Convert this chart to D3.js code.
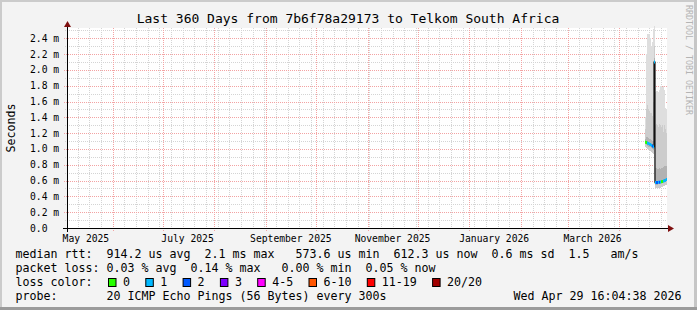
<!DOCTYPE html>
<html>
<head>
<meta charset="utf-8">
<script src="https://cdn.jsdelivr.net/npm/d3@7/dist/d3.min.js"></script>
<style>
  body { margin: 0; background: #f3f3f3; }
  text { font-family: "DejaVu Sans Mono", monospace; }
</style>
</head>
<body>
<div id="chart"></div>
<script>
var width = 697;
var height = 310;

// time frame of the graph
var endTime = new Date(Date.UTC(2026, 3, 29, 16, 4, 38));
var spanDays = 360;
var stepDays = 0.6;

// one entry per consolidated sample, age = days before endTime
var ageDays   = [12.6, 12.0, 11.4, 10.8, 10.2, 9.6, 9.0, 8.4, 7.8, 7.2, 6.6, 6.0, 5.4, 4.8, 4.2, 3.6, 3.0, 2.4, 1.8, 1.2, 0.6, 0.0];
var medianMs  = [1.085, 1.082, 1.075, 1.068, 1.062, 1.055, 1.048, 1.038, 1.028, 2.1, 0.574, 0.575, 0.576, 0.578, 0.580, 0.583, 0.586, 0.589, 0.593, 0.598, 0.605, 0.612];
var lossCount = [0, 0, 1, 1, 1, 1, 1, 2, 1, 1, 1, 2, 2, 1, 2, 1, 0, 0, 1, 1, 1, 1];
var smokeMax  = [1.40, 2.20, 2.45, 2.45, 2.45, 2.40, 2.30, 2.35, 2.52, 2.55, 1.72, 1.73, 1.73, 1.72, 1.75, 1.80, 1.80, 1.78, 1.80, 1.75, 1.52, 1.50];
var smokeP90  = [1.25, 1.50, 1.55, 1.50, 1.48, 1.45, 1.45, 1.42, 1.60, 2.30, 1.30, 1.32, 1.30, 1.28, 1.32, 1.30, 1.28, 1.30, 1.22, 1.30, 1.25, 1.20];
var smokeP75  = [1.13, 1.15, 1.15, 1.14, 1.13, 1.12, 1.11, 1.10, 1.10, 2.15, 0.76, 0.76, 0.75, 0.75, 0.76, 0.75, 0.76, 0.76, 0.77, 0.78, 0.78, 0.78];
var smokeP25  = [1.06, 1.05, 1.04, 1.03, 1.03, 1.02, 1.01, 1.00, 0.99, 1.00, 0.55, 0.55, 0.55, 0.555, 0.56, 0.56, 0.565, 0.57, 0.575, 0.58, 0.585, 0.59];
var smokeMin  = [1.02, 1.01, 1.00, 0.99, 0.98, 0.97, 0.96, 0.95, 0.94, 0.60, 0.50, 0.50, 0.50, 0.50, 0.51, 0.51, 0.52, 0.52, 0.53, 0.53, 0.54, 0.55];

var yMax = 2.53;
var yTicks = [0, 0.2, 0.4, 0.6, 0.8, 1.0, 1.2, 1.4, 1.6, 1.8, 2.0, 2.2, 2.4];
var yTickLabels = ["0.0", "0.2 m", "0.4 m", "0.6 m", "0.8 m", "1.0 m", "1.2 m", "1.4 m", "1.6 m", "1.8 m", "2.0 m", "2.2 m", "2.4 m"];
var yMinorTicks = [0.1, 0.3, 0.5, 0.7, 0.9, 1.1, 1.3, 1.5, 1.7, 1.9, 2.1, 2.3, 2.5];

// loss legend
var lossLabels = ["0", "1", "2", "3", "4-5", "6-10", "11-19", "20/20"];
var lossColors = ["#26ff00", "#00b8ff", "#0059ff", "#7e00ff", "#ff00ff", "#ff5500", "#ff0000", "#a10000"];

var title = "Last 360 Days from 7b6f78a29173 to Telkom South Africa";
var legendLines = [
  "median rtt:  914.2 us avg  2.1 ms max   573.6 us min  612.3 us now  0.6 ms sd  1.5   am/s",
  "packet loss: 0.03 % avg  0.14 % max   0.00 % min  0.05 % now"
];
var probeText = "20 ICMP Echo Pings (56 Bytes) every 300s";
var stampText = "Wed Apr 29 16:04:38 2026";

var plotL = 67, plotR = 667, plotT = 28, plotB = 228;
var minorColor = "#d4d4d4", majorColor = "#f3a3a3";

// keep runs of spaces in svg text
function keep(s) { return s.replace(/ /g, "\u00a0"); }

var svg = d3.select("#chart")
  .append("svg")
  .attr("width", width)
  .attr("height", height);

svg.append("rect").attr("width", width).attr("height", height).attr("fill", "#f3f3f3");
// frame
svg.append("rect").attr("x", 0).attr("y", 0).attr("width", width).attr("height", 2).attr("fill", "#cbcbcb");
svg.append("rect").attr("x", 0).attr("y", 0).attr("width", 2).attr("height", height).attr("fill", "#cbcbcb");
svg.append("rect").attr("x", width - 3).attr("y", 0).attr("width", 3).attr("height", height).attr("fill", "#c6c6c6");
svg.append("rect").attr("x", 0).attr("y", height - 3).attr("width", width).attr("height", 3).attr("fill", "#9b9b9b");

var startTime = d3.utcDay.offset(endTime, -spanDays);

var x = d3.scaleUtc().domain([startTime, endTime]).range([plotL, plotR]);
var y = d3.scaleLinear().domain([0, yMax]).range([plotB, plotT]);

svg.append("rect")
  .attr("x", plotL).attr("y", plotT)
  .attr("width", plotR - plotL).attr("height", plotB - plotT)
  .attr("fill", "#ffffff");

var grid = svg.append("g").attr("shape-rendering", "crispEdges");

// minor grid
yMinorTicks.forEach(function(v) {
  var yy = Math.round(y(v)) + 0.5;
  grid.append("line").attr("x1", plotL - 2).attr("x2", plotR).attr("y1", yy).attr("y2", yy)
    .attr("stroke", minorColor).attr("stroke-dasharray", "1,1");
});
var weeks = d3.utcSunday.range(startTime, endTime);
weeks.forEach(function(d) {
  var xx = Math.round(x(d)) + 0.5;
  grid.append("line").attr("x1", xx).attr("x2", xx).attr("y1", plotT).attr("y2", plotB + 2)
    .attr("stroke", minorColor).attr("stroke-dasharray", "1,1");
});
// major grid
yTicks.forEach(function(v) {
  if (v == 0) return;
  var yy = Math.round(y(v)) + 0.5;
  grid.append("line").attr("x1", plotL - 3).attr("x2", plotR).attr("y1", yy).attr("y2", yy)
    .attr("stroke", majorColor).attr("stroke-dasharray", "1,1");
});
var months = d3.utcMonth.range(startTime, endTime);
months.forEach(function(d) {
  var xx = Math.round(x(d)) + 0.5;
  grid.append("line").attr("x1", xx).attr("x2", xx).attr("y1", plotT).attr("y2", plotB + 3)
    .attr("stroke", majorColor).attr("stroke-dasharray", "1,1");
});

// smoke
var samples = ageDays.map(function(a, i) {
  var t1 = new Date(endTime.getTime() - a * 864e5);
  var t0 = new Date(t1.getTime() - stepDays * 864e5);
  return { t0: t0, t1: t1, median: medianMs[i], loss: lossCount[i],
           max: smokeMax[i], p90: smokeP90[i], p75: smokeP75[i], p25: smokeP25[i], min: smokeMin[i] };
});

var smoke = svg.append("g");
function band(lo, hi, color) {
  smoke.selectAll(null)
    .data(samples)
    .enter()
    .append("rect")
    .attr("x", function(d) { return x(d.t0); })
    .attr("width", function(d) { return x(d.t1) - x(d.t0); })
    .attr("y", function(d) { return y(d[hi]); })
    .attr("height", function(d) { return y(d[lo]) - y(d[hi]); })
    .attr("fill", color)
    .attr("shape-rendering", "crispEdges");
}
band("min", "max", "#dedede");
band("min", "p90", "#cccccc");
band("p25", "p75", "#b2b2b2");

// median: dark step line, then loss coloured segments
var stepPts = [];
samples.forEach(function(d) {
  stepPts.push([x(d.t0), y(d.median)]);
  stepPts.push([x(d.t1), y(d.median)]);
});
svg.append("path")
  .attr("d", d3.line()(stepPts))
  .attr("fill", "none")
  .attr("stroke", "#111")
  .attr("stroke-width", 1.2);

function lossIndex(n) {
  if (n <= 3) return n;
  if (n <= 5) return 4;
  if (n <= 10) return 5;
  if (n <= 19) return 6;
  return 7;
}
svg.append("g").selectAll("line")
  .data(samples)
  .enter()
  .append("line")
  .attr("x1", function(d) { return x(d.t0); })
  .attr("x2", function(d) { return x(d.t1); })
  .attr("y1", function(d) { return y(d.median); })
  .attr("y2", function(d) { return y(d.median); })
  .attr("stroke", function(d) { return lossColors[lossIndex(d.loss)]; })
  .attr("stroke-width", 3);

// axes
svg.append("line").attr("x1", plotL - 4).attr("x2", plotR + 2).attr("y1", plotB + 0.5).attr("y2", plotB + 0.5)
  .attr("stroke", "#000");
svg.append("line").attr("x1", plotL + 0.5).attr("x2", plotL + 0.5).attr("y1", plotB + 4).attr("y2", plotT - 2)
  .attr("stroke", "#000");
svg.append("path").attr("d", "M" + (plotR + 1) + "," + (plotB - 3) + "L" + (plotR + 7) + "," + (plotB + 0.5) + "L" + (plotR + 1) + "," + (plotB + 4) + "Z")
  .attr("fill", "#7f1010");
svg.append("path").attr("d", "M" + (plotL - 3) + "," + (plotT - 1) + "L" + (plotL + 0.5) + "," + (plotT - 7) + "L" + (plotL + 4) + "," + (plotT - 1) + "Z")
  .attr("fill", "#7f1010");

// y labels
svg.append("g").selectAll("text")
  .data(yTicks)
  .enter()
  .append("text")
  .attr("x", 30)
  .attr("y", function(d) { return y(d) + 3.5; })
  .attr("font-size", "9.7px")
  .attr("fill", "#000")
  .text(function(d, i) { return keep(yTickLabels[i]); });

// x labels, centred in the middle of every second month
var labelMonths = d3.utcMonth.every(2).range(d3.utcMonth.floor(startTime), endTime);
svg.append("g").selectAll("text")
  .data(labelMonths)
  .enter()
  .append("text")
  .attr("x", function(d) { return x(d3.utcDay.offset(d, 15)); })
  .attr("y", 241.5)
  .attr("text-anchor", "middle")
  .attr("font-size", "9.7px")
  .text(function(d) { return d3.utcFormat("%B %Y")(d); });

// title and unit
svg.append("text")
  .attr("x", 348).attr("y", 22.5)
  .attr("text-anchor", "middle")
  .attr("font-size", "13px")
  .text(keep(title));

svg.append("text")
  .attr("transform", "translate(15," + ((plotT + plotB) / 2) + ") rotate(-90)")
  .attr("text-anchor", "middle")
  .attr("font-size", "11.6px")
  .text("Seconds");

svg.append("text")
  .attr("transform", "translate(686,5) rotate(90)")
  .attr("font-size", "8.3px")
  .attr("fill", "#b4b4b4")
  .text(keep("RRDTOOL / TOBI OETIKER"));

// legend
var legend = svg.append("g").attr("font-size", "11.63px");
legendLines.forEach(function(s, i) {
  legend.append("text").attr("x", 15.5).attr("y", 258 + i * 14).text(keep(s));
});
legend.append("text").attr("x", 15.5).attr("y", 286).text(keep("loss color:"));
var lx = 108;
lossLabels.forEach(function(lab, i) {
  legend.append("rect")
    .attr("x", lx + 0.5).attr("y", 278.5)
    .attr("width", 7.5).attr("height", 8)
    .attr("fill", lossColors[i])
    .attr("stroke", "#000");
  var t = legend.append("text").attr("x", lx + 15).attr("y", 286).text(lab);
  lx = lx + 15 + t.node().getComputedTextLength() + 15.3;
});
legend.append("text").attr("x", 15.5).attr("y", 300).text("probe:");
legend.append("text").attr("x", 106.5).attr("y", 300).text(keep(probeText));
legend.append("text").attr("x", 681.5).attr("y", 300).attr("text-anchor", "end").text(keep(stampText));
</script>
</body>
</html>
